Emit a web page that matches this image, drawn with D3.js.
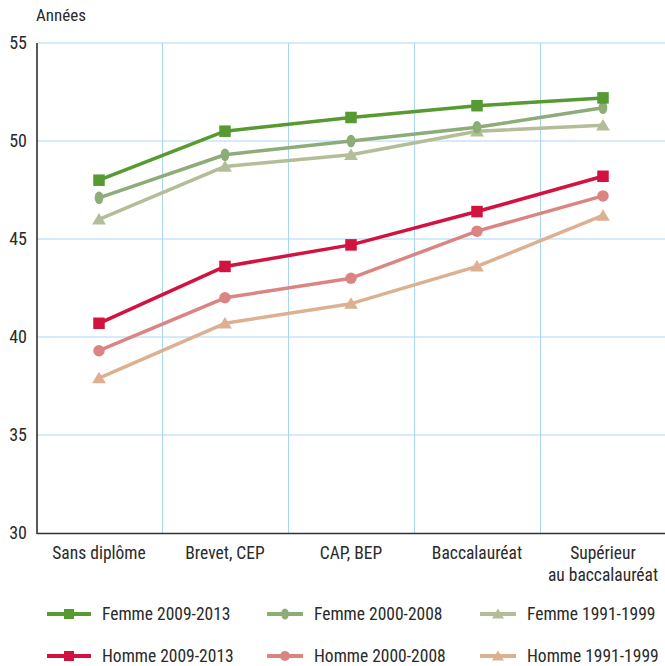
<!DOCTYPE html>
<html><head><meta charset="utf-8">
<script src="https://cdn.jsdelivr.net/npm/d3@7/dist/d3.min.js"></script>
<style>
body{margin:0;background:#fff;}
text{font-family:"Liberation Sans Narrow","Arial Narrow","Roboto Condensed","Liberation Sans",sans-serif;fill:#2a2a2a;}
</style></head>
<body><svg id="c" width="665" height="666"></svg>
<script>
const categories = ["Sans diplôme","Brevet, CEP","CAP, BEP","Baccalauréat","Supérieur\nau baccalauréat"];
const yTicks = [30,35,40,45,50,55];
const seriesNames = ["Femme 2009-2013","Femme 2000-2008","Femme 1991-1999","Homme 2009-2013","Homme 2000-2008","Homme 1991-1999"];
const femme2009 = [48.0,50.5,51.2,51.8,52.2];
const femme2000 = [47.1,49.3,50.0,50.7,51.7];
const femme1991 = [46.0,48.7,49.3,50.5,50.8];
const homme2009 = [40.7,43.6,44.7,46.4,48.2];
const homme2000 = [39.3,42.0,43.0,45.4,47.2];
const homme1991 = [37.9,40.7,41.7,43.6,46.2];
const colors = ["#569a31","#8cac78","#b3bd98","#d2123f","#db8583","#ddb092"];
const markers = ["square","ellipse","triangle","square","circle","triangle"];
const values = [femme2009,femme2000,femme1991,homme2009,homme2000,homme1991];

const svg = d3.select("#c");
const pLeft = 37, pTop = 43, pBottom = 533;
const x = d3.scaleBand().domain(categories).range([36, 666]);
const y = d3.scaleLinear().domain([30,55]).range([pBottom, pTop]);
const grid = "#a9d6f2";

svg.append("g").selectAll("line").data(yTicks.filter(d=>d>30)).join("line")
  .attr("x1", pLeft).attr("x2", 665).attr("y1", d=>y(d)).attr("y2", d=>y(d))
  .attr("stroke", grid).attr("stroke-width", 1);
svg.append("g").selectAll("line").data(categories.slice(1)).join("line")
  .attr("x1", d=>Math.round(x(d))+0.5).attr("x2", d=>Math.round(x(d))+0.5)
  .attr("y1", pTop).attr("y2", pBottom)
  .attr("stroke", grid).attr("stroke-width", 1);

svg.append("line").attr("x1", pLeft).attr("x2", pLeft).attr("y1", pTop).attr("y2", pBottom+1)
  .attr("stroke", "#222").attr("stroke-width", 1.5);
svg.append("line").attr("x1", pLeft).attr("x2", 665).attr("y1", pBottom+0.5).attr("y2", pBottom+0.5)
  .attr("stroke", "#333").attr("stroke-width", 1.5);

svg.append("g").selectAll("text").data(yTicks).join("text")
  .attr("x", 27).attr("y", d=>y(d)).attr("dy","0.35em").attr("text-anchor","end")
  .attr("font-size", 18).text(d=>d);
svg.append("text").attr("x", 36).attr("y", 21).attr("font-size", 17).text("Années");

const xl = svg.append("g").selectAll("text").data(categories).join("text")
  .attr("x", d=>x(d)+x.bandwidth()/2).attr("y", 559).attr("text-anchor","middle").attr("font-size", 17.5);
xl.each(function(d){
  const lines = d.split("\n");
  d3.select(this).selectAll("tspan").data(lines).join("tspan")
    .attr("x", x(d)+x.bandwidth()/2).attr("dy",(l,i)=>i===0?0:22).text(l=>l);
});

function drawMarker(g, type, cx, cy, color, s){
  if(type==="square") g.append("rect").attr("x",cx-s/2).attr("y",cy-s/2).attr("width",s).attr("height",s).attr("fill",color);
  else if(type==="circle") g.append("circle").attr("cx",cx).attr("cy",cy).attr("r",s/2).attr("fill",color);
  else if(type==="ellipse") g.append("ellipse").attr("cx",cx).attr("cy",cy).attr("rx",s*0.38).attr("ry",s*0.55).attr("fill",color);
  else if(type==="triangle") g.append("path").attr("d",`M${cx},${cy-s*0.55}L${cx+s*0.6},${cy+s*0.45}L${cx-s*0.6},${cy+s*0.45}Z`).attr("fill",color);
}

const line = d3.line().x((d,i)=>x(categories[i])+x.bandwidth()/2).y(d=>y(d));
for(let k=values.length-1;k>=0;k--){
  const g = svg.append("g");
  g.append("path").datum(values[k]).attr("d", line).attr("fill","none")
    .attr("stroke", colors[k]).attr("stroke-width", 3.5).attr("stroke-linejoin","round");
  values[k].forEach((v,i)=>drawMarker(g, markers[k], x(categories[i])+x.bandwidth()/2, y(v), colors[k], 11.5));
}

const colX = [47, 267, 480];
const lineW = [44, 36, 36];
const textX = [102, 314, 527];
const rowY = [614, 656];
seriesNames.forEach((n,k)=>{
  const c = k%3, r = Math.floor(k/3);
  const g = svg.append("g");
  g.append("line").attr("x1",colX[c]).attr("x2",colX[c]+lineW[c]).attr("y1",rowY[r]).attr("y2",rowY[r])
    .attr("stroke",colors[k]).attr("stroke-width",4);
  drawMarker(g, markers[k], colX[c]+lineW[c]/2, rowY[r], colors[k], 10);
  g.append("text").attr("x",textX[c]).attr("y",rowY[r]).attr("dy","0.35em").attr("font-size",17.5).text(n);
});
</script></body></html>
